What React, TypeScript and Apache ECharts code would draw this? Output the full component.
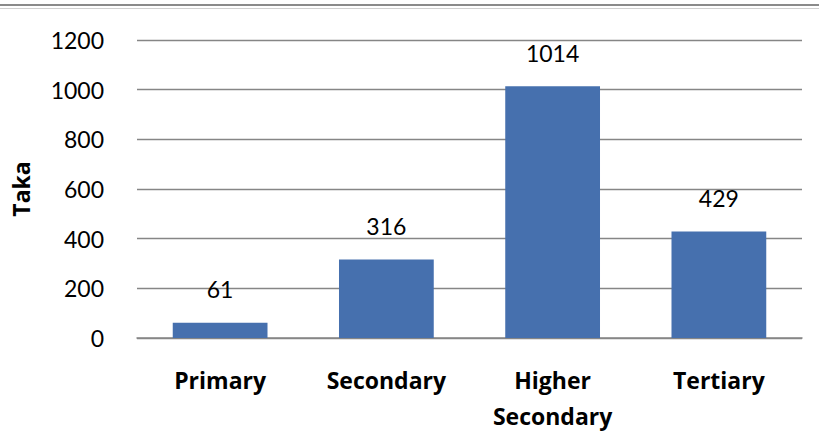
import React, { useEffect, useRef } from "react";
import * as echarts from "echarts";

const categories = ["Primary", "Secondary", "Higher\nSecondary", "Tertiary"];
const values = [61, 316, 1014, 429];
const yTicks = [0, 200, 400, 600, 800, 1000, 1200];

const NUM_FONT = "Lato, sans-serif";
const BOLD_FONT = "Open Sans, sans-serif";

export default function App() {
  const ref = useRef<HTMLDivElement>(null);
  useEffect(() => {
    if (!ref.current) return;
    const chart = echarts.init(ref.current, null, { renderer: "svg" });
    chart.setOption({
      animation: false,
      backgroundColor: "#ffffff",
      graphic: [
        { type: "line", shape: { x1: 0, y1: 5, x2: 819, y2: 5 }, style: { stroke: "#8a8a8a", lineWidth: 2 } },
        { type: "line", shape: { x1: 0, y1: 8.5, x2: 819, y2: 8.5 }, style: { stroke: "#d0d0d0", lineWidth: 1 } },
      ],
      grid: { left: 137, right: 17, top: 40, bottom: 97 },
      xAxis: {
        type: "category",
        data: categories,
        axisTick: { show: false },
        axisLine: { lineStyle: { color: "#868686", width: 1.5 } },
        axisLabel: {
          color: "#000",
          fontFamily: BOLD_FONT,
          fontWeight: "bold",
          fontSize: 23,
          lineHeight: 36,
          margin: 24,
          interval: 0,
        },
      },
      yAxis: {
        type: "value",
        min: yTicks[0],
        max: yTicks[yTicks.length - 1],
        interval: 200,
        name: "Taka",
        nameLocation: "middle",
        nameGap: 105,
        nameTextStyle: { color: "#000", fontFamily: BOLD_FONT, fontWeight: "bold", fontSize: 23 },
        axisLine: { show: false },
        axisTick: { show: false },
        splitLine: { lineStyle: { color: "#868686", width: 1.3 } },
        axisLabel: {
          color: "#000",
          fontFamily: NUM_FONT,
          fontSize: 23,
          margin: 33,
          formatter: (v: number) => String(v),
        },
      },
      series: [
        {
          type: "bar",
          data: values,
          barWidth: "57%",
          itemStyle: { color: "#4670AE" },
          label: {
            show: true,
            position: "top",
            distance: 22,
            color: "#000",
            fontFamily: NUM_FONT,
            fontSize: 23,
          },
        },
      ],
    });
    return () => chart.dispose();
  }, []);
  return <div ref={ref} style={{ position: "absolute", left: 0, top: 0, width: 819, height: 435 }} />;
}
